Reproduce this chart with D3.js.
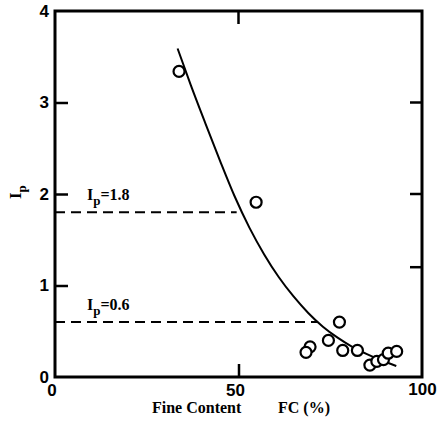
<!DOCTYPE html>
<html>
<script src='https://d3js.org/d3.v7.min.js'></script>
<style>
  html, body {
    margin: 0;
    background-color: #ffffff;
  }
  .tick text {
    font-family: "Liberation Sans", Arial, sans-serif;
    font-weight: bold;
    font-size: 17px;
  }
  .lbl {
    font-family: "Liberation Serif", "Times New Roman", serif;
    font-weight: bold;
  }
</style>
<body>
<div id="vis"></div>
</body>
<script>
// measured points (fine content %, Ip)
var fc = [33.8, 54.8, 77.5, 74.5, 69.5, 68.4, 78.4, 82.4, 85.8, 87.7, 89.5, 90.8, 93.1];
var ip = [3.34, 1.91, 0.60, 0.40, 0.33, 0.27, 0.29, 0.29, 0.13, 0.17, 0.19, 0.26, 0.28];

// fitted curve
var curve_fc = [33.4, 37, 41, 45, 49, 53, 57, 61, 65, 69, 73, 77, 81, 85, 89, 93];
var curve_ip = [3.59, 3.19, 2.77, 2.36, 1.97, 1.63, 1.34, 1.09, 0.88, 0.70, 0.55, 0.43, 0.33, 0.25, 0.18, 0.12];

// reference lines
var ref_ip = [1.8, 0.6];
var ref_end = [49.5, 71.4];
var ref_text = ['1.8', '0.6'];

var x_ticks = [0, 50, 100];
var y_ticks = [0, 1, 2, 3, 4];
var right_ticks = [3, 2, 1.2];

var width = 448, height = 428;
var margin = {top: 11, right: 26, bottom: 51, left: 55};

var svg = d3.select('#vis')
    .append('svg')
    .attr('width', width)
    .attr('height', height);

var x_scale = d3.scaleLinear().domain([0, 100]).range([margin.left, width - margin.right]);
var y_scale = d3.scaleLinear().domain([0, 4]).range([height - margin.bottom, margin.top]);

// frame
svg.append('rect')
    .attr('x', x_scale(0))
    .attr('y', y_scale(4))
    .attr('width', x_scale(100) - x_scale(0))
    .attr('height', y_scale(0) - y_scale(4))
    .attr('fill', 'none')
    .attr('stroke', '#000')
    .attr('stroke-width', 3);

var x_axis = d3.axisBottom(x_scale).tickValues(x_ticks).tickSizeInner(-13).tickSizeOuter(0).tickPadding(6)
    .tickFormat(function(d) { return d == 50 || d == 0 ? '' : d; });
var y_axis = d3.axisLeft(y_scale).tickValues(y_ticks).tickSizeInner(-13).tickSizeOuter(0).tickPadding(6)
    .tickFormat(d3.format('d'));

var gx = svg.append('g')
    .attr('transform', 'translate(0,' + y_scale(0) + ')')
    .call(x_axis);
var gy = svg.append('g')
    .attr('transform', 'translate(' + x_scale(0) + ',0)')
    .call(y_axis);

[gx, gy].forEach(function(g) {
  g.select('.domain').remove();
  g.selectAll('.tick line').attr('stroke-width', 2.5);
  g.selectAll('.tick').filter(function(d) { return d == 0 || d == 100 || d == 4; }).select('line').remove();
});
gx.selectAll('.tick text').attr('fill', '#000');
gy.selectAll('.tick text').attr('fill', '#000');

// extra x tick labels at the corner and at 50
svg.append('text')
    .attr('x', x_scale(0) - 3)
    .attr('y', y_scale(0) + 19)
    .attr('text-anchor', 'middle')
    .attr('font-family', '"Liberation Sans", Arial, sans-serif')
    .attr('font-weight', 'bold')
    .attr('font-size', 17)
    .text('0');
svg.append('text')
    .attr('x', x_scale(50) - 3)
    .attr('y', y_scale(0) + 19)
    .attr('text-anchor', 'middle')
    .attr('font-family', '"Liberation Sans", Arial, sans-serif')
    .attr('font-weight', 'bold')
    .attr('font-size', 17)
    .text('50');

// top tick at 50
svg.append('line')
    .attr('x1', x_scale(50)).attr('x2', x_scale(50))
    .attr('y1', y_scale(4)).attr('y2', y_scale(4) + 13)
    .attr('stroke', '#000').attr('stroke-width', 2.5);

// right ticks
svg.selectAll('.rtick')
    .data(right_ticks)
    .enter()
    .append('line')
    .attr('class', 'rtick')
    .attr('x1', x_scale(100)).attr('x2', x_scale(100) - 12)
    .attr('y1', function(d) { return y_scale(d); })
    .attr('y2', function(d) { return y_scale(d); })
    .attr('stroke', '#000').attr('stroke-width', 2.5);

// dashed reference lines
svg.selectAll('.ref')
    .data(ref_ip)
    .enter()
    .append('line')
    .attr('class', 'ref')
    .attr('x1', x_scale(0))
    .attr('x2', function(d, i) { return x_scale(ref_end[i]); })
    .attr('y1', function(d) { return y_scale(d); })
    .attr('y2', function(d) { return y_scale(d); })
    .attr('stroke', '#000')
    .attr('stroke-width', 2)
    .attr('stroke-dasharray', '10,6');

var ref_labels = svg.selectAll('.reflbl')
    .data(ref_ip)
    .enter()
    .append('text')
    .attr('class', 'lbl')
    .attr('x', 87)
    .attr('y', function(d) { return y_scale(d) - 12; })
    .attr('font-size', 16);
ref_labels.append('tspan').text('I');
ref_labels.append('tspan').attr('dy', 5).attr('font-size', 13).text('p');
ref_labels.append('tspan').attr('dy', -5).text(function(d, i) { return '=' + ref_text[i]; });

// fitted curve
var curve_data = curve_fc.map(function(d, i) { return [d, curve_ip[i]]; });
var line = d3.line()
    .x(function(d) { return x_scale(d[0]); })
    .y(function(d) { return y_scale(d[1]); })
    .curve(d3.curveMonotoneX);

svg.append('path')
    .datum(curve_data)
    .attr('d', line)
    .attr('fill', 'none')
    .attr('stroke', '#000')
    .attr('stroke-width', 2);

// points
svg.selectAll('.pt')
    .data(fc)
    .enter()
    .append('circle')
    .attr('class', 'pt')
    .attr('cx', function(d) { return x_scale(d); })
    .attr('cy', function(d, i) { return y_scale(ip[i]); })
    .attr('r', 5.5)
    .attr('fill', '#fff')
    .attr('stroke', '#000')
    .attr('stroke-width', 2.2);

// axis titles
var yt = svg.append('text')
    .attr('class', 'lbl')
    .attr('transform', 'translate(21,199) rotate(-90)')
    .attr('font-size', 17);
yt.append('tspan').text('I');
yt.append('tspan').attr('dy', 5).attr('font-size', 13).text('p');

svg.append('text')
    .attr('class', 'lbl')
    .attr('x', 152)
    .attr('y', 413)
    .attr('font-size', 16)
    .text('Fine Content');
svg.append('text')
    .attr('class', 'lbl')
    .attr('x', 278)
    .attr('y', 413)
    .attr('font-size', 16)
    .text('FC (%)');
</script>
</html>
